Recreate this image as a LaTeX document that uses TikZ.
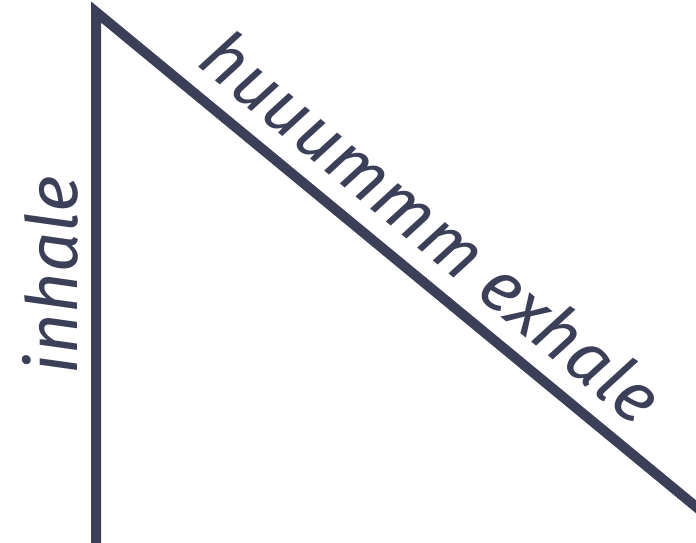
\documentclass[tikz,border=0pt]{standalone}
\usepackage{fontspec}
\setmainfont{Fira Sans}
\usetikzlibrary{positioning}
\definecolor{ink}{HTML}{3C3F58}

\begin{document}
\begin{tikzpicture}[x=1bp,y=-1bp,font=\fontsize{71}{80}\selectfont\itshape]
% pixel grid of the reference, y downwards
\useasboundingbox (0,0) rectangle (696,543);
\coordinate (base) at (96,546);
\coordinate (apex) at (96,12);
\coordinate (tail) at (706,515);
\draw[ink, line width=10bp, line join=miter] (base) -- (apex) -- (tail);
\node[rotate=90, text=ink] (inhale) at (50,275) {inhale};
\node[rotate=-39.5, text=ink] (exhale) at (432,226) {huuummm exhale};
\end{tikzpicture}
\end{document}
